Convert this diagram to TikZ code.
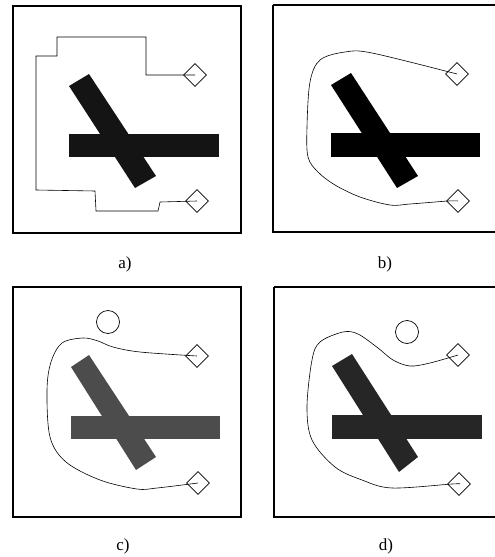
\documentclass[tikz,border=0pt]{standalone}
\usepackage{fontspec}
\setmainfont{Liberation Serif}
\usetikzlibrary{shapes.geometric}
\begin{document}
\begin{tikzpicture}[x=1pt,y=-1pt,
  frame/.style={draw=black,line width=2pt},
  goal/.style={draw=black,shape=diamond,line width=0.7pt,minimum size=23pt,inner sep=0pt,fill=white},
  obst/.style={draw=black,shape=circle,line width=0.7pt,minimum size=23pt,inner sep=0pt},
  route/.style={draw=black,line width=0.6pt},
  lbl/.style={font=\fontsize{17}{19}\selectfont,inner sep=0pt}]
\useasboundingbox (0,0) rectangle (495,557);
% frames
\draw[frame] (13,6) rectangle (241,233);
\draw[frame] (273,5) -- (499,5) (273,5) -- (273,232) -- (499,232);
\draw[frame] (13,287) rectangle (241,517);
\draw[frame] (274,287) -- (499,287) (274,287) -- (274,517) -- (499,517);
% labels
\node[lbl] (la) at (125,264) {a)};
\node[lbl] (lb) at (385,264) {b)};
\node[lbl] (lc) at (123,546) {c)};
\node[lbl] (ld) at (386,546) {d)};
% ---------- panel a ----------
\fill[black!92] (69,134) rectangle (219,157);
\fill[black!92] (69,86) -- (89,74) -- (156,176) -- (135,188) -- cycle;
\node[goal] (at) at (195,75) {};
\node[goal] (ab) at (197,201) {};
\draw[route] (at.center) -- (146,75) -- (146,37) -- (57,37) -- (57,56) -- (36,56)
  -- (36,190) -- (95,191) -- (96,211) -- (158,211) -- (160,202) -- (ab.center);
% ---------- panel b ----------
\fill[black] (331,133) rectangle (480,157);
\fill[black] (331,85) -- (351,73) -- (418,176) -- (397,188) -- cycle;
\node[goal] (bt) at (457,74) {};
\node[goal] (bb) at (458,201) {};
\draw[route] plot[smooth,tension=0.55] coordinates {(bt.center) (372,53) (345,52) (320,60) (310,82)
  (307,127) (308,157) (318,172) (335,185) (360,197) (390,205) (410,204) (448,201) (bb.center)};
% ---------- panel c ----------
\fill[black!70] (71,416) rectangle (220,439);
\fill[black!70] (71,367) -- (89,355) -- (156,457) -- (136,470) -- cycle;
\node[obst] (co) at (108,322) {};
\node[goal] (ct) at (197,356) {};
\node[goal] (cb) at (198,483) {};
\draw[route] plot[smooth,tension=0.55] coordinates {(ct.center) (140,352) (113,347) (98,341)
  (83,338) (62,343) (51,362) (47,390) (50,437) (66,462) (100,480) (137,489) (157,488) (cb.center)};
% ---------- panel d ----------
\fill[black!85] (332,415) rectangle (482,439);
\fill[black!85] (332,366) -- (352,354) -- (418,457) -- (399,472) -- cycle;
\node[obst] (do) at (407,332) {};
\node[goal] (dt) at (458,355) {};
\node[goal] (db) at (459,484) {};
\draw[route] plot[smooth,tension=0.55] coordinates {(dt.center) (430,363) (410,366) (393,360)
  (378,348) (358,334) (343,332) (320,342) (312,360) (307,407) (312,440) (335,467) (362,480)
  (392,488) (452,484) (db.center)};
\end{tikzpicture}
\end{document}
